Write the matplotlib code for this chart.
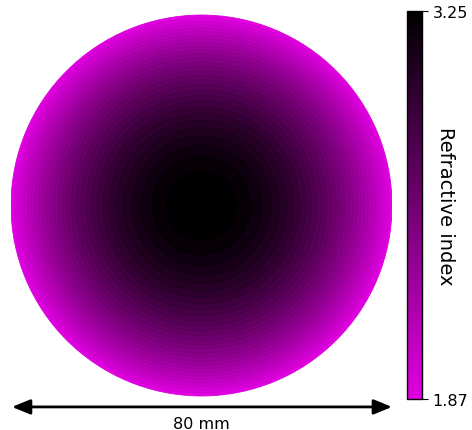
"""
GRIN lens refractive index map: concentric bands from the centre to the rim,
with a colour bar and a scale arrow under the disk.
"""

import matplotlib.pyplot as plt
import matplotlib as mpl
from matplotlib.colors import LinearSegmentedColormap, Normalize
from matplotlib.patches import Circle

# values
n_center = 3.25          # refractive index on the axis
n_edge = 1.87            # refractive index at the rim
diameter_mm = 80         # lens diameter
n_bands = 30             # number of index steps drawn
cbar_ticks = [1.87, 3.25]
cbar_label = 'Refractive index'
scale_label = '80 mm'

radius = diameter_mm / 2

cmap = LinearSegmentedColormap.from_list('grin', ['#e100e1', '#000000'])
norm = Normalize(vmin=n_edge, vmax=n_center)

fig = plt.figure(figsize=(4.72, 4.31), dpi=100)
ax = fig.add_axes([0.0233, 0.0016, 0.8072, 0.9833])
ax.set_xlim(-radius, radius)
ax.set_ylim(-47, 42)
ax.axis('off')

# parabolic profile: equal index steps -> band edges at R*sqrt(k/N)
for k in range(n_bands - 1, -1, -1):
    r_k = radius * ((k + 1) / n_bands) ** 0.5
    n_k = n_center - (n_center - n_edge) * k / (n_bands - 1)
    ax.add_patch(Circle((0, 0), r_k, facecolor=cmap(norm(n_k)),
                        edgecolor=cmap(min(norm(n_k) + 0.04, 1.0)),
                        linewidth=0.6))

# scale arrow
ax.annotate('', xy=(-radius + 0.2, -42.3), xytext=(radius, -42.3),
            arrowprops=dict(arrowstyle='<|-|>,head_length=1.1,head_width=0.45',
                            color='black', lw=2, shrinkA=0, shrinkB=0))
ax.text(0, -44.2, scale_label, ha='center', va='top', fontsize=11.5)

# colour bar
cax = fig.add_axes([0.8623, 0.0719, 0.0318, 0.9002])
cb = fig.colorbar(mpl.cm.ScalarMappable(norm=norm, cmap=cmap), cax=cax)
cb.set_ticks(cbar_ticks)
cb.set_ticklabels([f'{t:.2f}' for t in cbar_ticks])
cb.ax.tick_params(labelsize=11.5, length=4)
cb.outline.set_linewidth(1.0)
cb.ax.text(2.55, 0.5, cbar_label, rotation=270, fontsize=14,
           ha='center', va='center', transform=cb.ax.transAxes)

plt.savefig('out.png', dpi=100)
